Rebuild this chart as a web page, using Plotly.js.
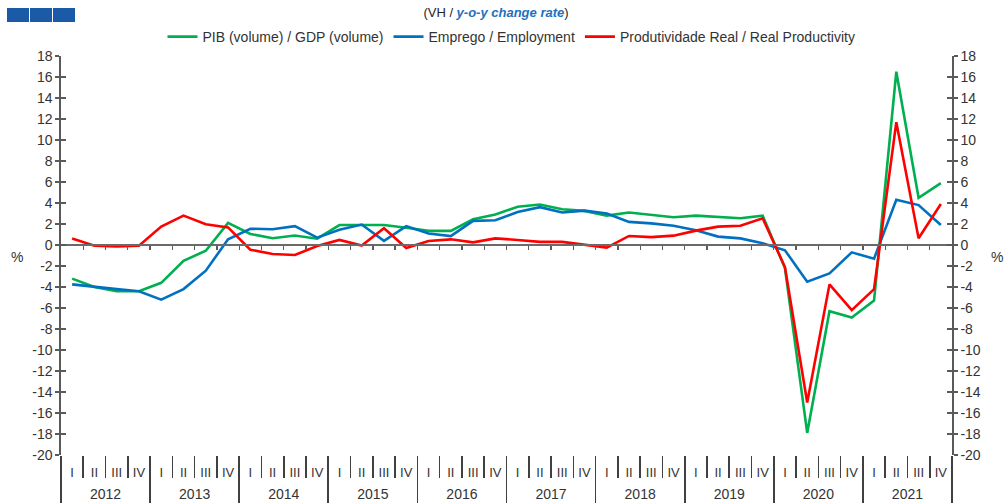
<!DOCTYPE html>
<html>
<head>
<meta charset="utf-8">
<script src="https://cdn.plot.ly/plotly-3.0.1.min.js"></script>
<style>
html,body{margin:0;padding:0;background:#ffffff;}
#chart{width:1005px;height:504px;}
</style>
</head>
<body>
<div id="chart"></div>
<script>
// ---- Data ----
const years = ["2012","2013","2014","2015","2016","2017","2018","2019","2020","2021"];
const quarters = ["I","II","III","IV"];

const gdp = [
  -3.2, -4.0, -4.4, -4.4,
  -3.6, -1.5, -0.55, 2.1,
  1.05, 0.65, 0.9, 0.6,
  1.9, 1.9, 1.9, 1.65,
  1.35, 1.35, 2.45, 2.9,
  3.65, 3.85, 3.4, 3.25,
  2.8, 3.1, 2.85, 2.65,
  2.8, 2.65, 2.55, 2.8,
  -2.2, -17.9, -6.3, -6.9,
  -5.3, 16.5, 4.5, 5.9
];
const employment = [
  -3.75, -4.0, -4.2, -4.4,
  -5.2, -4.2, -2.45, 0.55,
  1.55, 1.5, 1.8, 0.7,
  1.45, 1.95, 0.4, 1.8,
  1.1, 0.85, 2.3, 2.35,
  3.15, 3.6, 3.1, 3.27,
  3.0, 2.2, 2.06, 1.84,
  1.4, 0.8, 0.63, 0.16,
  -0.5, -3.5, -2.7, -0.7,
  -1.3, 4.3, 3.8, 1.9
];
const productivity = [
  0.63, -0.06, -0.13, -0.06,
  1.75, 2.8, 1.97, 1.68,
  -0.45, -0.85, -0.95, -0.1,
  0.48, -0.06, 1.6, -0.28,
  0.38, 0.54, 0.25, 0.63,
  0.48, 0.3, 0.3, 0.06,
  -0.25, 0.86, 0.75, 0.89,
  1.37, 1.75, 1.84, 2.55,
  -2.1, -15.0, -3.75, -6.2,
  -4.2, 11.7, 0.65, 3.9
];

const seriesNames = ["PIB (volume) / GDP (volume)", "Emprego / Employment", "Produtividade Real / Real Productivity"];
const yTickVals = [-20,-18,-16,-14,-12,-10,-8,-6,-4,-2,0,2,4,6,8,10,12,14,16,18];
const yTickText = ["-20","-18","-16","-14","-12","-10","-8","-6","-4","-2","0","2","4","6","8","10","12","14","16","18"];
const yRange = [-20, 18];

// ---- Build category structure ----
const xYear = [], xQuarter = [];
years.forEach(y => quarters.forEach(q => { xYear.push(y); xQuarter.push(q); }));
const nCat = xYear.length;
const nQ = quarters.length;
const xRange = [-0.5, nCat - 0.5];
const catIdx = xYear.map((_, i) => i);
const allBounds = [];
for (let i = 0; i <= nCat; i++) allBounds.push(i - 0.5);
const innerBounds = allBounds.slice(1, -1);
const yearCenters = years.map((_, i) => i * nQ + (nQ - 1) / 2);
const yearBounds = [];
for (let i = 0; i <= years.length; i++) yearBounds.push(i * nQ - 0.5);
const zeroPos = (0 - yRange[0]) / (yRange[1] - yRange[0]);

// plot area geometry (pixels) for decorations
const W = 1005, H = 504;
const M = {l: 61, r: 53, t: 56, b: 49};
const PW = W - M.l - M.r, PH = H - M.t - M.b;
const px = x => (x - M.l) / PW;
const py = y => (H - M.b - y) / PH;

const FONT = '"Liberation Sans", Arial, sans-serif';
const TXT = '#333333';
const AX = '#5a5a5a';
const SEP = '#404040';

function line(name, y, color) {
  return {
    type: 'scatter', mode: 'lines', name: name,
    x: [xYear, xQuarter], y: y,
    line: {color: color, width: 2.6},
    xaxis: 'x', yaxis: 'y'
  };
}
function dummy(xa, ya) {
  return {type: 'scatter', mode: 'lines', x: [0], y: [null], xaxis: xa, yaxis: ya,
          showlegend: false, hoverinfo: 'skip'};
}

const data = [
  line(seriesNames[0], gdp, '#00B050'),
  line(seriesNames[1], employment, '#0070C0'),
  line(seriesNames[2], productivity, '#FF0000'),
  dummy('x2', 'y'),
  dummy('x3', 'y'),
  dummy('x4', 'y'),
  dummy('x5', 'y'),
  dummy('x6', 'y'),
  dummy('x3', 'y2'),
  dummy('x3', 'y3'),
  dummy('x3', 'y4')
];

const yBase = {
  range: yRange, tickmode: 'array', tickvals: yTickVals, ticktext: yTickText,
  showgrid: false, zeroline: false, showline: true, linecolor: AX, linewidth: 1.6,
  tickcolor: AX, tickwidth: 1.3, fixedrange: true,
  tickfont: {family: FONT, size: 14, color: TXT}
};
const xOver = {
  overlaying: 'x', anchor: 'y', side: 'bottom', type: 'linear', range: xRange,
  tickmode: 'array', showgrid: false, zeroline: false, showline: false, fixedrange: true
};

const layout = {
  width: W, height: H,
  margin: {l: M.l, r: M.r, t: M.t, b: M.b, pad: 0},
  paper_bgcolor: '#ffffff', plot_bgcolor: '#ffffff',
  font: {family: FONT, size: 14, color: TXT},
  showlegend: true,
  title: {
    text: '(VH / <b><i><span style="color:#2270BC">y-o-y change rate</span></i></b>)',
    font: {family: FONT, size: 13, color: '#262626'},
    xref: 'container', x: 496 / W, xanchor: 'center',
    yref: 'container', y: 1 - 12 / H, yanchor: 'middle'
  },
  legend: {
    orientation: 'h', x: 0.5 + 5 / PW, xanchor: 'center', y: py(37), yanchor: 'middle',
    font: {family: FONT, size: 14, color: TXT}, bgcolor: 'rgba(0,0,0,0)',
    itemwidth: 30, traceorder: 'normal'
  },
  // data axis (quarters within years) – labels drawn by overlay axes below
  xaxis: {
    type: 'multicategory', range: xRange, showgrid: false, zeroline: false,
    showline: false, ticks: '', showticklabels: false, showdividers: false, fixedrange: true
  },
  // horizontal axis line at y = 0 with quarter ticks
  xaxis2: Object.assign({}, xOver, {
    anchor: 'free', position: zeroPos, tickvals: innerBounds, ticks: 'outside', ticklen: 4,
    tickcolor: AX, tickwidth: 1.3, showticklabels: false, showline: true,
    linecolor: '#6a6a6a', linewidth: 2
  }),
  // quarter separators
  xaxis3: Object.assign({}, xOver, {
    tickvals: allBounds, ticks: 'outside', ticklen: 22, tickcolor: SEP, tickwidth: 1.6,
    showticklabels: false
  }),
  // quarter labels
  xaxis4: Object.assign({}, xOver, {
    tickvals: catIdx, ticktext: xQuarter, ticks: 'outside', ticklen: 5,
    tickcolor: 'rgba(0,0,0,0)', showticklabels: true,
    tickfont: {family: FONT, size: 13, color: TXT}
  }),
  // year labels
  xaxis5: Object.assign({}, xOver, {
    tickvals: yearCenters, ticktext: years, ticks: 'outside', ticklen: 26,
    tickcolor: 'rgba(0,0,0,0)', showticklabels: true,
    tickfont: {family: FONT, size: 14, color: TXT}
  }),
  // year dividers
  xaxis6: Object.assign({}, xOver, {
    tickvals: yearBounds, ticks: 'outside', ticklen: 47, tickcolor: SEP, tickwidth: 1.6,
    showticklabels: false
  }),
  yaxis: Object.assign({}, yBase, {side: 'left', anchor: 'x', ticks: 'outside', ticklen: 4}),
  yaxis2: Object.assign({}, yBase, {side: 'right', anchor: 'x', overlaying: 'y', ticks: 'outside', ticklen: 4}),
  yaxis3: Object.assign({}, yBase, {side: 'left', anchor: 'x', overlaying: 'y', ticks: 'inside', ticklen: 5, showticklabels: false}),
  yaxis4: Object.assign({}, yBase, {side: 'right', anchor: 'x', overlaying: 'y', ticks: 'inside', ticklen: 5, showticklabels: false}),
  annotations: [
    {text: '%', xref: 'paper', yref: 'paper', x: px(17), y: py(257), showarrow: false,
     font: {family: FONT, size: 14, color: TXT}, xanchor: 'center', yanchor: 'middle'},
    {text: '%', xref: 'paper', yref: 'paper', x: px(997), y: py(257), showarrow: false,
     font: {family: FONT, size: 14, color: TXT}, xanchor: 'center', yanchor: 'middle'}
  ],
  shapes: [[7, 29], [30, 52], [53, 75]].map(([a, b]) => ({
    type: 'rect', xref: 'paper', yref: 'paper',
    x0: px(a), x1: px(b), y0: py(22), y1: py(8),
    fillcolor: '#1B5AA6', line: {width: 0}, layer: 'above'
  }))
};

Plotly.newPlot('chart', data, layout, {displayModeBar: false, staticPlot: true});
</script>
</body>
</html>
